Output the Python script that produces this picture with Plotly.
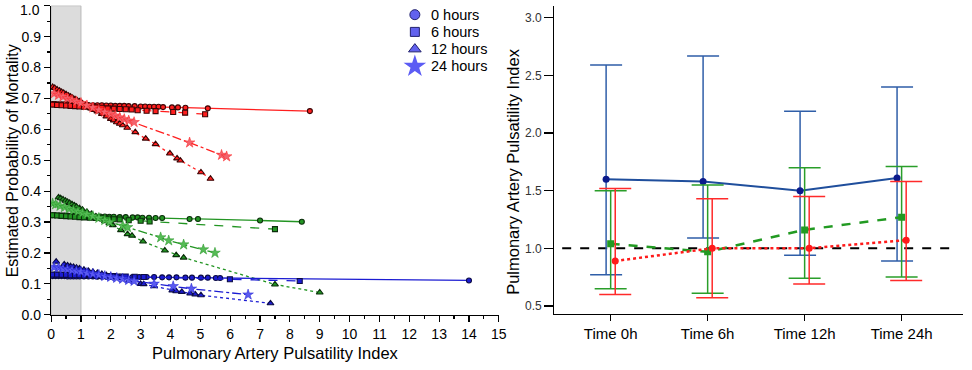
import plotly.graph_objects as go

# ---------------- Left panel data (PAPi vs estimated probability) ----------------
red_0h_x = [0.05,0.15,0.25,0.35,0.45,0.55,0.65,0.75,0.85,0.95,1.1,1.25,1.4,1.55,1.7,1.85,2.0,2.15,2.3,2.45,2.6,2.8,3.0,3.15,3.3,3.45,3.6,3.75,4.05,4.25,4.5,5.25,8.67]
red_0h_y = [0.682,0.682,0.681,0.681,0.681,0.681,0.680,0.680,0.680,0.680,0.679,0.679,0.678,0.678,0.678,0.677,0.677,0.676,0.676,0.676,0.675,0.675,0.674,0.674,0.673,0.673,0.673,0.672,0.671,0.671,0.670,0.668,0.659]
red_6h_x = [0.05,0.2,0.35,0.5,0.65,0.8,0.95,1.1,1.3,1.5,1.7,1.9,2.1,2.3,2.5,2.7,2.9,3.2,3.5,4.09,4.49,5.16]
red_6h_y = [0.680,0.679,0.678,0.677,0.676,0.675,0.674,0.673,0.672,0.671,0.670,0.668,0.667,0.666,0.665,0.664,0.662,0.660,0.659,0.656,0.654,0.649]
red_12h_x = [0.05,0.12,0.2,0.28,0.35,0.42,0.5,0.58,0.65,0.72,0.8,0.88,0.95,1.05,1.15,1.25,1.35,1.45,1.55,1.7,1.85,2.0,2.1,2.2,2.3,2.4,2.55,2.82,3.17,3.5,3.98,4.22,4.33,5.02,5.34]
red_12h_y = [0.737,0.734,0.729,0.725,0.721,0.718,0.714,0.709,0.706,0.702,0.698,0.693,0.690,0.684,0.679,0.674,0.668,0.663,0.658,0.650,0.642,0.634,0.629,0.623,0.618,0.613,0.605,0.591,0.570,0.552,0.522,0.506,0.499,0.461,0.440]
red_24h_x = [0.1,0.25,0.4,0.55,0.7,0.85,1.0,1.2,1.4,1.6,1.8,2.0,2.15,2.3,2.45,2.6,2.78,4.64,5.71,5.88]
red_24h_y = [0.716,0.711,0.706,0.700,0.695,0.690,0.685,0.677,0.670,0.663,0.656,0.649,0.644,0.638,0.633,0.628,0.623,0.557,0.517,0.512]

green_0h_x = [0.05,0.15,0.25,0.35,0.45,0.55,0.65,0.75,0.9,1.05,1.2,1.35,1.5,1.65,1.8,1.95,2.1,2.3,2.5,2.73,2.9,3.06,3.28,3.5,3.72,4.64,4.92,7.0,8.4]
green_0h_y = [0.322,0.322,0.321,0.321,0.321,0.321,0.320,0.320,0.320,0.319,0.319,0.319,0.318,0.318,0.318,0.317,0.317,0.316,0.316,0.315,0.315,0.314,0.314,0.313,0.313,0.310,0.310,0.305,0.301]
green_6h_x = [0.05,0.2,0.35,0.5,0.65,0.8,0.95,1.1,1.3,1.5,1.7,1.9,2.1,2.3,2.6,3.0,3.3,7.5]
green_6h_y = [0.322,0.321,0.320,0.319,0.318,0.317,0.316,0.315,0.314,0.313,0.312,0.311,0.309,0.308,0.306,0.304,0.302,0.277]
green_12h_x = [0.25,0.32,0.4,0.48,0.55,0.62,0.7,0.78,0.85,0.95,1.05,1.2,1.35,1.5,1.65,1.8,1.95,2.07,2.34,2.56,2.71,3.08,3.81,4.19,4.44,7.5,9.0]
green_12h_y = [0.380,0.377,0.373,0.369,0.365,0.362,0.358,0.354,0.350,0.345,0.340,0.333,0.326,0.318,0.311,0.303,0.296,0.290,0.274,0.261,0.256,0.237,0.208,0.193,0.185,0.098,0.072]
green_24h_x = [0.05,0.15,0.3,0.45,0.6,0.75,0.9,1.05,1.2,1.4,1.6,1.8,1.96,2.4,2.56,3.67,3.94,4.44,5.1,5.49]
green_24h_y = [0.360,0.357,0.352,0.348,0.343,0.338,0.334,0.329,0.325,0.319,0.313,0.306,0.300,0.288,0.283,0.250,0.240,0.227,0.211,0.200]

blue_0h_x = [0.05,0.15,0.25,0.35,0.45,0.55,0.65,0.75,0.85,0.95,1.1,1.25,1.4,1.55,1.7,1.85,2.0,2.15,2.3,2.5,2.73,2.95,3.2,3.45,3.72,3.95,4.2,4.5,4.72,5.02,5.25,5.52,5.66,14.0]
blue_0h_y = [0.125,0.125,0.125,0.125,0.125,0.124,0.124,0.124,0.124,0.124,0.124,0.124,0.124,0.123,0.123,0.123,0.123,0.123,0.123,0.122,0.122,0.122,0.122,0.122,0.121,0.121,0.121,0.120,0.120,0.120,0.120,0.119,0.119,0.111]
blue_6h_x = [0.05,0.2,0.35,0.5,0.65,0.8,0.95,1.1,1.3,1.5,1.7,1.9,2.1,2.3,2.5,2.8,3.1,5.99,8.33]
blue_6h_y = [0.130,0.130,0.129,0.129,0.128,0.128,0.128,0.127,0.127,0.126,0.126,0.125,0.125,0.124,0.124,0.123,0.122,0.115,0.109]
blue_12h_x = [0.17,0.44,0.55,0.65,0.75,0.85,0.95,1.1,1.25,1.4,1.55,1.7,1.85,2.0,2.15,2.3,2.62,3.0,3.1,3.45,4.06,4.19,4.38,4.66,4.83,5.02,7.35]
blue_12h_y = [0.172,0.163,0.160,0.157,0.155,0.152,0.150,0.146,0.142,0.139,0.135,0.132,0.128,0.125,0.122,0.119,0.111,0.100,0.099,0.092,0.079,0.076,0.074,0.069,0.066,0.063,0.037]
blue_24h_x = [0.1,0.25,0.4,0.55,0.7,0.85,1.0,1.2,1.4,1.6,1.8,2.0,2.2,2.4,2.6,2.78,3.45,4.09,4.7,6.6]
blue_24h_y = [0.154,0.152,0.149,0.147,0.144,0.141,0.139,0.135,0.132,0.129,0.125,0.122,0.119,0.116,0.112,0.109,0.100,0.092,0.084,0.065]

legend_labels = ["0 hours", "6 hours", "12 hours", "24 hours"]
shade_x = [0, 1]          # shaded PAPi band
left_y_max = 1.0

# ---------------- Right panel data ----------------
time_labels = ["Time 0h", "Time 6h", "Time 12h", "Time 24h"]
blue_mean = [1.60, 1.58, 1.50, 1.61]
blue_hi = [2.59, 2.67, 2.19, 2.40]
blue_lo = [0.77, 1.09, 0.94, 0.89]
green_mean = [1.04, 0.97, 1.16, 1.27]
green_hi = [1.50, 1.55, 1.70, 1.71]
green_lo = [0.65, 0.61, 0.74, 0.75]
red_mean = [0.89, 1.00, 1.00, 1.07]
red_hi = [1.52, 1.43, 1.45, 1.58]
red_lo = [0.60, 0.57, 0.69, 0.72]
ref_level = 1.0

FONT = "Liberation Sans, Arial, sans-serif"
W, H = 972, 370

fig = go.Figure()

# ---- left panel traces ----
groups = [
    ("#ff1e1e", "#3a0505", "#f2646e", [
        (red_0h_x, red_0h_y), (red_6h_x, red_6h_y), (red_12h_x, red_12h_y), (red_24h_x, red_24h_y)]),
    ("#239523", "#0b2e0b", "#56bb56", [
        (green_0h_x, green_0h_y), (green_6h_x, green_6h_y), (green_12h_x, green_12h_y), (green_24h_x, green_24h_y)]),
    ("#1c1cd2", "#0c0c45", "#5a5af0", [
        (blue_0h_x, blue_0h_y), (blue_6h_x, blue_6h_y), (blue_12h_x, blue_12h_y), (blue_24h_x, blue_24h_y)]),
]
styles = [("solid", "circle", 5), ("dash", "square", 5), ("dot", "triangle-up", 6), ("dashdot", "star", 8)]

for col, edge, starcol, series in groups:
    for (xs, ys), (dash, sym, sz) in zip(series, styles):
        is_star = sym == "star"
        fig.add_trace(go.Scatter(
            x=xs, y=ys, mode="lines+markers", xaxis="x", yaxis="y", showlegend=False,
            line=dict(color=col, width=1.3, dash=dash),
            marker=dict(symbol=sym, size=sz, color=starcol if is_star else col,
                        line=dict(color=col if is_star else edge, width=0.5 if is_star else 1.1)),
            hoverinfo="skip"))

# ---- manual legend (own small axis in pixel-like units) ----
leg_sizes = [10, 9, 11, 17]
leg_row_step = 17.6
leg_rows = [15 + leg_row_step * i for i in range(len(legend_labels))]
for lab, (dash, sym, sz), lsz, ry in zip(legend_labels, styles, leg_sizes, leg_rows):
    is_star = sym == "star"
    fig.add_trace(go.Scatter(
        x=[20], y=[ry], mode="markers", xaxis="x3", yaxis="y3", showlegend=False,
        marker=dict(symbol=sym, size=lsz, color="#6262ee" if not is_star else "#5c5cf4",
                    line=dict(color="#22226e", width=0 if is_star else 1)),
        hoverinfo="skip"))

# ---- right panel traces ----
off = 0.047
idx = list(range(len(time_labels)))
fig.add_trace(go.Scatter(x=[-0.5, len(time_labels) - 0.5], y=[ref_level, ref_level], mode="lines",
                         xaxis="x2", yaxis="y2", showlegend=False,
                         line=dict(color="black", width=2, dash="dash"), hoverinfo="skip"))

def err_trace(shift, mean, hi, lo, col, mcol, ecol, dash, width, sym):
    return go.Scatter(
        x=[i + shift for i in idx], y=mean, mode="lines+markers", xaxis="x2", yaxis="y2", showlegend=False,
        line=dict(color=col, width=width, dash=dash),
        marker=dict(symbol=sym, size=7, color=mcol),
        error_y=dict(type="data", symmetric=False,
                     array=[h - m for h, m in zip(hi, mean)],
                     arrayminus=[m - l for m, l in zip(mean, lo)],
                     color=ecol, thickness=1.5, width=16))

fig.add_trace(err_trace(-off, blue_mean, blue_hi, blue_lo, "#1f4e9c", "#0b1a8c", "#2f5ea8", "solid", 2, "circle"))
fig.add_trace(err_trace(0.0, green_mean, green_hi, green_lo, "#229a22", "#229a22", "#2a9e2a", "dash", 2.5, "square"))
fig.add_trace(err_trace(off, red_mean, red_hi, red_lo, "#ff1a1a", "#ff1a1a", "#ff2a2a", "dot", 2.5, "circle"))

# gray band
fig.add_shape(type="rect", xref="x", yref="y", x0=shade_x[0], x1=shade_x[1], y0=0, y1=left_y_max,
              fillcolor="#dcdcdc", line=dict(color="#b8b8b8", width=1), layer="below")

axis_common = dict(showline=True, linecolor="black", linewidth=1.3, showgrid=False, zeroline=False,
                   ticks="outside", tickcolor="black")

L0, L1 = 47.7 / W, 501.0 / W
R0, R1 = 557.3 / W, 970.7 / W

annotations = [
    dict(text="Pulmonary Artery Pulsatility Index", x=516 / W, y=(H - 175) / H,
         xref="paper", yref="paper", textangle=-90, showarrow=False,
         font=dict(size=16.5, family=FONT), xanchor="center", yanchor="middle"),
    dict(text="Estimated Probability of Mortality", x=9 / W, y=(H - 164) / H,
         xref="paper", yref="paper", textangle=-90, showarrow=False,
         font=dict(size=16, family=FONT), xanchor="center", yanchor="middle"),
    # top tick label of left y axis (plotly drops it because it touches the page edge)
    dict(text=f"{left_y_max:.1f}", x=38.5 / W, y=1.0, xref="paper", yref="paper",
         showarrow=False, xanchor="right", yanchor="top", font=dict(size=14, family=FONT)),
]
for lab, ry in zip(legend_labels, leg_rows):
    annotations.append(dict(text=lab, x=34, y=ry, xref="x3", yref="y3", showarrow=False,
                            xanchor="left", yanchor="middle", font=dict(size=14.5, family=FONT)))

fig.update_layout(
    width=W, height=H, margin=dict(l=0, r=0, t=0, b=0),
    paper_bgcolor="white", plot_bgcolor="white",
    font=dict(family=FONT, color="black"),
    showlegend=False,
    xaxis=dict(domain=[L0, L1], range=[0, 15], dtick=1, tick0=0, ticklen=6, tickwidth=1.2,
               tickfont=dict(size=14), anchor="y",
               minor=dict(dtick=0.5, ticklen=3, ticks="outside", tickcolor="black"),
               title=dict(text="Pulmonary Artery Pulsatility Index", font=dict(size=16.5), standoff=6),
               **axis_common),
    yaxis=dict(domain=[(H - 321.7) / H, (H - 5.7) / H], range=[0, left_y_max + 0.0005], dtick=0.1, tick0=0,
               tickformat=".1f", ticklen=6, tickwidth=1.2, tickfont=dict(size=14), anchor="x",
               minor=dict(dtick=0.05, ticklen=3, ticks="outside", tickcolor="black"),
               **axis_common),
    xaxis2=dict(domain=[R0, R1], range=[-0.58, 3.63], tickvals=idx, ticktext=time_labels,
                ticklen=6, tickwidth=1.2, tickfont=dict(size=15), anchor="y2", **axis_common),
    yaxis2=dict(domain=[(H - 320.7) / H, (H - 6.0) / H], range=[0.432, 3.104], dtick=0.5, tick0=0.5,
                tickformat=".1f", ticklen=9, tickwidth=1.2, tickfont=dict(size=12, color="#333333"),
                anchor="x2", **axis_common),
    xaxis3=dict(domain=[396 / W, 496 / W], range=[0, 100], visible=False, fixedrange=True, anchor="y3"),
    yaxis3=dict(domain=[(H - 80) / H, 1.0], range=[80, 0], visible=False, fixedrange=True, anchor="x3"),
    annotations=annotations,
)

fig.write_html("out.html", config={"displayModeBar": False, "staticPlot": True},
               post_script="document.body.style.margin='0';document.body.style.overflow='hidden';")
